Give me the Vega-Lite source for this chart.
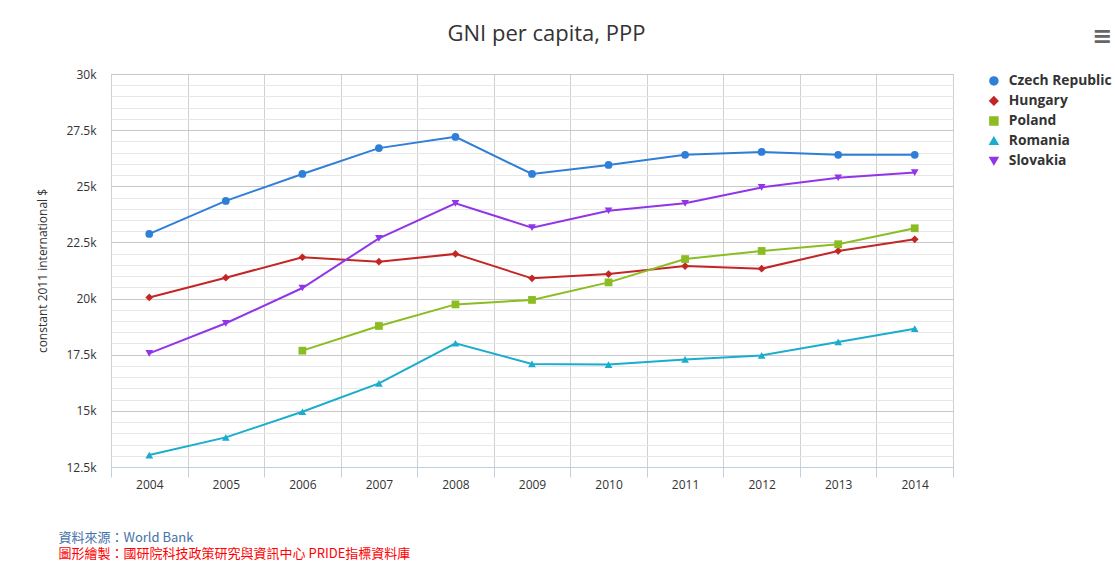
{
  "$schema": "https://vega.github.io/schema/vega-lite/v6.json",
  "width": 842,
  "height": 393,
  "autosize": "none",
  "padding": {"left": 111, "top": 74, "right": 162, "bottom": 96},
  "background": "white",
  "config": {
    "view": {"stroke": "#c0c0c0"},
    "font": "Open Sans"
  },
  "data": {
    "values": [
      {"country": "Czech Republic", "year": "2004", "value": 22880},
      {"country": "Czech Republic", "year": "2005", "value": 24350},
      {"country": "Czech Republic", "year": "2006", "value": 25550},
      {"country": "Czech Republic", "year": "2007", "value": 26700},
      {"country": "Czech Republic", "year": "2008", "value": 27200},
      {"country": "Czech Republic", "year": "2009", "value": 25550},
      {"country": "Czech Republic", "year": "2010", "value": 25950},
      {"country": "Czech Republic", "year": "2011", "value": 26400},
      {"country": "Czech Republic", "year": "2012", "value": 26530},
      {"country": "Czech Republic", "year": "2013", "value": 26400},
      {"country": "Czech Republic", "year": "2014", "value": 26400},
      {"country": "Hungary", "year": "2004", "value": 20050},
      {"country": "Hungary", "year": "2005", "value": 20930},
      {"country": "Hungary", "year": "2006", "value": 21840},
      {"country": "Hungary", "year": "2007", "value": 21640},
      {"country": "Hungary", "year": "2008", "value": 21990},
      {"country": "Hungary", "year": "2009", "value": 20900},
      {"country": "Hungary", "year": "2010", "value": 21090},
      {"country": "Hungary", "year": "2011", "value": 21450},
      {"country": "Hungary", "year": "2012", "value": 21330},
      {"country": "Hungary", "year": "2013", "value": 22120},
      {"country": "Hungary", "year": "2014", "value": 22640},
      {"country": "Poland", "year": "2006", "value": 17680},
      {"country": "Poland", "year": "2007", "value": 18780},
      {"country": "Poland", "year": "2008", "value": 19740},
      {"country": "Poland", "year": "2009", "value": 19940},
      {"country": "Poland", "year": "2010", "value": 20720},
      {"country": "Poland", "year": "2011", "value": 21760},
      {"country": "Poland", "year": "2012", "value": 22120},
      {"country": "Poland", "year": "2013", "value": 22420},
      {"country": "Poland", "year": "2014", "value": 23130},
      {"country": "Romania", "year": "2004", "value": 13030},
      {"country": "Romania", "year": "2005", "value": 13820},
      {"country": "Romania", "year": "2006", "value": 14960},
      {"country": "Romania", "year": "2007", "value": 16220},
      {"country": "Romania", "year": "2008", "value": 18010},
      {"country": "Romania", "year": "2009", "value": 17090},
      {"country": "Romania", "year": "2010", "value": 17060},
      {"country": "Romania", "year": "2011", "value": 17290},
      {"country": "Romania", "year": "2012", "value": 17470},
      {"country": "Romania", "year": "2013", "value": 18070},
      {"country": "Romania", "year": "2014", "value": 18660},
      {"country": "Slovakia", "year": "2004", "value": 17560},
      {"country": "Slovakia", "year": "2005", "value": 18900},
      {"country": "Slovakia", "year": "2006", "value": 20470},
      {"country": "Slovakia", "year": "2007", "value": 22680},
      {"country": "Slovakia", "year": "2008", "value": 24240},
      {"country": "Slovakia", "year": "2009", "value": 23160},
      {"country": "Slovakia", "year": "2010", "value": 23910},
      {"country": "Slovakia", "year": "2011", "value": 24240},
      {"country": "Slovakia", "year": "2012", "value": 24950},
      {"country": "Slovakia", "year": "2013", "value": 25380},
      {"country": "Slovakia", "year": "2014", "value": 25610}
    ]
  },
  "resolve": {"axis": {"x": "independent", "y": "independent"}},
  "layer": [
    {
      "mark": {"type": "line", "strokeWidth": 2},
      "encoding": {
        "x": {
          "field": "year",
          "type": "ordinal",
          "scale": {"type": "band", "paddingInner": 0, "paddingOuter": 0},
          "axis": {
            "orient": "bottom",
            "labelAngle": 0,
            "labelFont": "Open Sans",
            "labelFontSize": 12,
            "labelColor": "#333333",
            "labelPadding": 2,
            "tickBand": "extent",
            "tickSize": 10,
            "tickColor": "#c0d0e0",
            "domainColor": "#c0d0e0",
            "grid": true,
            "gridColor": "#d0d0d0",
            "title": "資料來源：World Bank",
            "titleFont": "Noto Sans CJK TC",
            "titleFontSize": 13,
            "titleFontWeight": "normal",
            "titleColor": "#4572a7",
            "titleAlign": "left",
            "titleBaseline": "middle",
            "titleX": -53,
            "titleY": 70
          }
        },
        "y": {
          "field": "value",
          "type": "quantitative",
          "scale": {"domain": [12500, 30000], "nice": false, "zero": false},
          "axis": {
            "orient": "left",
            "values": [12500, 13000, 13500, 14000, 14500, 15000, 15500, 16000, 16500, 17000, 17500, 18000, 18500, 19000, 19500, 20000, 20500, 21000, 21500, 22000, 22500, 23000, 23500, 24000, 24500, 25000, 25500, 26000, 26500, 27000, 27500, 28000, 28500, 29000, 29500, 30000],
            "labelExpr": "datum.value % 2500 === 0 ? (datum.value / 1000) + 'k' : ''",
            "labelFont": "Open Sans",
            "labelFontSize": 12,
            "labelColor": "#333333",
            "labelPadding": 15,
            "ticks": false,
            "domain": false,
            "grid": true,
            "gridColor": {"condition": {"test": "datum.value % 2500 === 0", "value": "#c8c8c8"}, "value": "#e6e6e6"},
            "title": "constant 2011 international $",
            "titleFont": "Open Sans",
            "titleFontSize": 12,
            "titleFontWeight": "normal",
            "titleColor": "#333333",
            "titleBaseline": "middle",
            "titleX": -69
          }
        },
        "color": {
          "field": "country",
          "type": "nominal",
          "scale": {
            "domain": ["Czech Republic", "Hungary", "Poland", "Romania", "Slovakia"],
            "range": ["#2f7ed8", "#c42525", "#8bbc21", "#1aadce", "#9135e8"]
          }
        }
      }
    },
    {
      "mark": {"type": "point", "filled": true, "size": 60, "opacity": 1},
      "encoding": {
        "x": {
          "field": "year",
          "type": "ordinal",
          "axis": {
            "orient": "bottom",
            "labels": false,
            "ticks": false,
            "domain": false,
            "grid": false,
            "title": "圖形繪製：國研院科技政策研究與資訊中心 PRIDE指標資料庫",
            "titleFont": "Noto Sans CJK TC",
            "titleFontSize": 13,
            "titleFontWeight": "normal",
            "titleColor": "#ff0000",
            "titleAlign": "left",
            "titleBaseline": "middle",
            "titleX": -53,
            "titleY": 86
          }
        },
        "y": {
          "field": "value",
          "type": "quantitative",
          "axis": {
            "orient": "right",
            "labels": false,
            "ticks": false,
            "domain": false,
            "grid": false,
            "title": "GNI per capita, PPP",
            "titleAngle": 0,
            "titleAlign": "center",
            "titleBaseline": "middle",
            "titleFont": "Open Sans",
            "titleFontSize": 22,
            "titleFontWeight": "normal",
            "titleColor": "#333333",
            "titleX": -407,
            "titleY": -41
          }
        },
        "color": {
          "field": "country",
          "type": "nominal",
          "legend": {
            "orient": "none",
            "legendX": 876,
            "legendY": -49,
            "title": "≡",
            "titleFont": "DejaVu Sans",
            "titleFontSize": 24,
            "titleFontWeight": "bold",
            "titleColor": "#666666",
            "titleAnchor": "end",
            "titlePadding": 25,
            "padding": 0,
            "labelFont": "Open Sans",
            "labelFontSize": 13.8,
            "labelFontWeight": "bold",
            "labelColor": "#333333",
            "labelOffset": 8,
            "rowPadding": 5,
            "symbolSize": 64,
            "encode": {
              "symbols": {
                "shape": {"value": {"expr": "datum.value === 'Czech Republic' ? 'M-2,0H2M1,0A1,1,0,1,1,-1,0A1,1,0,1,1,1,0Z' : datum.value === 'Hungary' ? 'M-2,0H2M0,-1L0.9,0L0,1L-0.9,0Z' : datum.value === 'Poland' ? 'M-2,0H2M-0.85,-0.85H0.85V0.85H-0.85Z' : datum.value === 'Romania' ? 'M-2,0H2M0,-1L1,0.8H-1Z' : 'M-2,0H2M0,1L1,-0.8H-1Z'"}},
                "stroke": {"value": {"expr": "scale('color', datum.value)"}},
                "strokeWidth": {"value": 2}
              }
            }
          }
        },
        "shape": {
          "field": "country",
          "type": "nominal",
          "scale": {
            "domain": ["Czech Republic", "Hungary", "Poland", "Romania", "Slovakia"],
            "range": ["circle", "diamond", "square", "triangle-up", "triangle-down"]
          },
          "legend": {
            "orient": "none",
            "legendX": 876,
            "legendY": -49,
            "title": "≡",
            "titleFont": "DejaVu Sans",
            "titleFontSize": 24,
            "titleFontWeight": "bold",
            "titleColor": "#666666",
            "titleAnchor": "end",
            "titlePadding": 25,
            "padding": 0,
            "labelFont": "Open Sans",
            "labelFontSize": 13.8,
            "labelFontWeight": "bold",
            "labelColor": "#333333",
            "labelOffset": 8,
            "rowPadding": 5,
            "symbolSize": 64,
            "encode": {
              "symbols": {
                "shape": {"value": {"expr": "datum.value === 'Czech Republic' ? 'M-2,0H2M1,0A1,1,0,1,1,-1,0A1,1,0,1,1,1,0Z' : datum.value === 'Hungary' ? 'M-2,0H2M0,-1L0.9,0L0,1L-0.9,0Z' : datum.value === 'Poland' ? 'M-2,0H2M-0.85,-0.85H0.85V0.85H-0.85Z' : datum.value === 'Romania' ? 'M-2,0H2M0,-1L1,0.8H-1Z' : 'M-2,0H2M0,1L1,-0.8H-1Z'"}},
                "stroke": {"value": {"expr": "scale('color', datum.value)"}},
                "strokeWidth": {"value": 2}
              }
            }
          }
        }
      }
    }
  ]
}
